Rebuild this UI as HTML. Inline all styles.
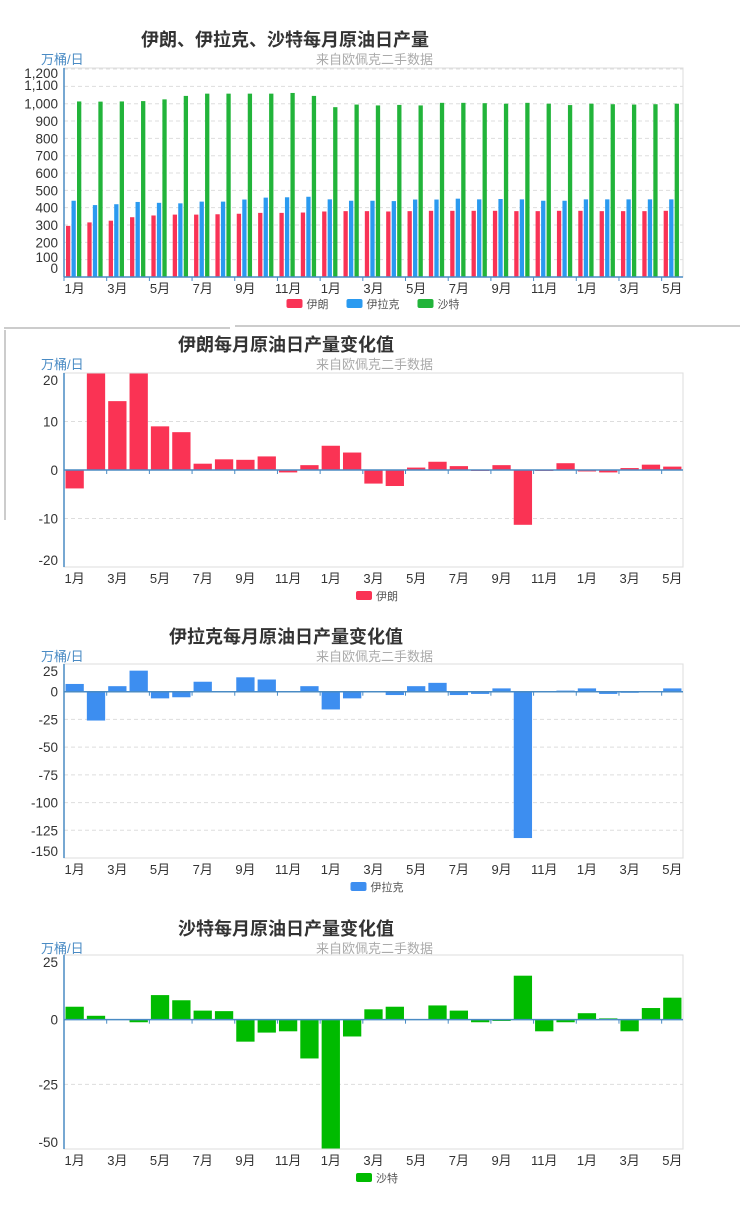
<!DOCTYPE html>
<html><head><meta charset="utf-8">
<style>
body{margin:0;background:#fff;width:740px;height:1207px;overflow:hidden;}
svg{display:block;font-family:"Liberation Sans","Noto Sans CJK SC",sans-serif;}
</style></head><body>
<svg id="s" width="740" height="1207" xmlns="http://www.w3.org/2000/svg"></svg>
<script>
var s=document.getElementById('s');var h='';
var L=64,R=683,N=29,cw=(R-L)/N;
var months=['1月','3月','5月','7月','9月','11月'];
function head(title,ty,tx){
 h+='<text x="'+tx+'" y="'+ty+'" font-size="18" font-weight="bold" fill="#333" text-anchor="middle">'+title+'</text>';
 h+='<text x="433" y="'+(ty+18)+'" font-size="13" fill="#aaa" text-anchor="end">来自欧佩克二手数据</text>';
 h+='<text x="41" y="'+(ty+18)+'" font-size="13" fill="#4a8bc4">万桶/日</text>';
}
function frame(top,bot,zero){
 h+='<rect x="'+L+'" y="'+top+'" width="'+(R-L)+'" height="'+(bot-top)+'" fill="none" stroke="#ddd"/>';
 h+='<line x1="'+L+'" y1="'+top+'" x2="'+L+'" y2="'+bot+'" stroke="#4a8bc4" stroke-width="1.5"/>';
 h+='<line x1="'+L+'" y1="'+zero+'" x2="'+R+'" y2="'+zero+'" stroke="#4a8bc4" stroke-width="1.5"/>';
 for(var i=0;i<=N;i+=2){var x=L+i*cw;h+='<line x1="'+x+'" y1="'+zero+'" x2="'+x+'" y2="'+(zero+4)+'" stroke="#4a8bc4"/>';}
 for(var i=0;i<N;i+=2){var x=L+(i+0.5)*cw;h+='<text x="'+x+'" y="'+(bot+16)+'" font-size="13" fill="#333" text-anchor="middle">'+months[(i/2)%6]+'</text>';}
}
function grid(y){h+='<line x1="'+L+'" y1="'+y+'" x2="'+R+'" y2="'+y+'" stroke="#ddd" stroke-dasharray="4,3"/>';}
function ylab(t,y){h+='<text x="58" y="'+(y+5)+'" font-size="13.5" fill="#333" text-anchor="end">'+t+'</text>';}
function legend(items,y,cx){
 var w=0;items.forEach(function(it){w+=22+it[0].length*11+16;});w-=16;var x=cx-w/2;
 items.forEach(function(it){h+='<rect x="'+x+'" y="'+(y-5)+'" width="16" height="9" rx="2" fill="'+it[1]+'"/>';
 h+='<text x="'+(x+20)+'" y="'+(y+4)+'" font-size="11" fill="#555">'+it[0]+'</text>';x+=22+it[0].length*11+16;});
}
h+='<line x1="4" y1="328" x2="230" y2="328" stroke="#ccc" stroke-width="2"/><line x1="235" y1="326" x2="740" y2="326" stroke="#ccc" stroke-width="2"/><line x1="5" y1="330" x2="5" y2="520" stroke="#ccc" stroke-width="2"/>';
var ir=[295,315,325,345,355,360,360,362,365,370,370,372,378,380,380,378,380,382,382,382,382,380,380,382,382,380,380,380,382];
var iq=[440,415,420,433,428,425,435,435,447,458,460,463,448,440,440,438,447,447,452,448,450,448,440,440,448,448,448,448,448];
var sa=[1013,1012,1013,1015,1025,1045,1058,1058,1058,1058,1062,1045,980,995,990,993,990,1005,1005,1003,1000,1005,1000,992,1000,997,995,997,1000];
head('伊朗、伊拉克、沙特每月原油日产量',46,285);
var b1=277,k1=0.1733;
for(var v=100;v<=1200;v+=100)grid(b1-v*k1);
function fmt(v){return v>=1000?(Math.floor(v/1000)+','+String(v%1000).padStart(3,'0')):String(v);}
for(var v=0;v<=1200;v+=100){var y=b1-v*k1;if(v==0)y=268;if(v==100)y=257;if(v==1200)y=73;if(v==1100)y=85;ylab(fmt(v),y);}
for(var i=0;i<N;i++){var x=L+i*cw;
 h+='<rect x="'+(x+2)+'" y="'+(b1-ir[i]*k1)+'" width="4.3" height="'+(ir[i]*k1)+'" fill="#f93356"/>';
 h+='<rect x="'+(x+7.5)+'" y="'+(b1-iq[i]*k1)+'" width="4.3" height="'+(iq[i]*k1)+'" fill="#2a9af0"/>';
 h+='<rect x="'+(x+13)+'" y="'+(b1-sa[i]*k1)+'" width="4.3" height="'+(sa[i]*k1)+'" fill="#22b43a"/>';}
frame(68,277,277);
legend([['伊朗','#f93356'],['伊拉克','#2a9af0'],['沙特','#22b43a']],304,374);
function change(title,ty,tx,top,bot,max,min,step,data,col,name){
 head(title,ty,tx);
 var k=(bot-top)/(max-min),zero=top+max*k;
 for(var v=max;v>=min;v-=step){var y=zero-v*k;if(v!=0&&v!=max&&v!=min)grid(y);ylab(String(v),Math.max(top+7,Math.min(bot-7,y)));}
 for(var i=0;i<N;i++){var x=L+i*cw+1.5,v=data[i];if(v==0)continue;
  var y1=Math.max(top,zero-Math.max(v,0)*k),y2=Math.min(bot,zero-Math.min(v,0)*k);
  h+='<rect x="'+x+'" y="'+y1+'" width="18.3" height="'+(y2-y1)+'" fill="'+col+'"/>';}
 frame(top,bot,zero);
 legend([[name,col]],bot+29,378);
}
change('伊朗每月原油日产量变化值',351,286,373,567,20,-20,10,
 [-3.8,20,14.2,21,9,7.8,1.3,2.2,2.1,2.8,-0.5,1,5,3.6,-2.8,-3.3,0.5,1.7,0.8,-0.2,1,-11.3,-0.2,1.4,-0.3,-0.5,0.4,1.1,0.7],'#fa3354','伊朗');
change('伊拉克每月原油日产量变化值',643,286,664,858,25,-150,25,
 [7,-26,5,19,-6,-5,9,0,13,11,0,5,-16,-6,0,-3,5,8,-3,-2,3,-132,0,1,3,-2,-1,0,3],'#3d8ef0','伊拉克');
change('沙特每月原油日产量变化值',935,286,955,1149,25,-50,25,
 [5,1.5,0,-1,9.5,7.5,3.5,3.3,-8.5,-5,-4.5,-15,-50,-6.5,4,5,0,5.5,3.5,-1,-0.5,17,-4.5,-1,2.5,0.5,-4.5,4.5,8.5],'#00bb00','沙特');
s.innerHTML=h;
</script>
</body></html>
